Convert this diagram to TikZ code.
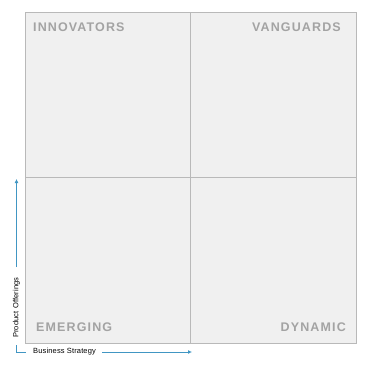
\documentclass[tikz,border=0pt]{standalone}
\usepackage{fontspec}
\setmainfont{Liberation Sans}
\newfontfamily\quadfont[LetterSpace=9]{Liberation Sans}
\newfontfamily\axisfont[LetterSpace=2]{Liberation Sans}
\usetikzlibrary{positioning,arrows.meta}
\definecolor{quadfill}{RGB}{240,240,240}
\definecolor{quadline}{RGB}{185,185,185}
\definecolor{quadtext}{RGB}{163,163,163}
\definecolor{axisblue}{RGB}{65,150,195}
\begin{document}
\begin{tikzpicture}[
			x=1pt,y=-1pt,
			quadrant/.style={draw=quadline,fill=quadfill,line width=0.8pt,minimum size=165.5pt,inner sep=0pt,outer sep=0pt},
			quadlabel/.style={text=quadtext,font=\quadfont\bfseries\fontsize{12.5}{14}\selectfont,inner sep=0pt},
			axislabel/.style={font=\axisfont\fontsize{7.5}{9}\selectfont,inner sep=0pt},
			axisarrow/.style={draw=axisblue,line width=1pt,-{Latex[length=4pt,width=4pt]}}
		]
		\useasboundingbox (0,0) rectangle (370,367);
		% quadrants
		\node[quadrant] (innov) at (107.75,94.75) {};
		\node[quadrant] (vang) at (273.25,94.75) {};
		\node[quadrant] (emerg) at (107.75,260.25) {};
		\node[quadrant] (dyn) at (273.25,260.25) {};
		\node[quadlabel,anchor=north west] at ([xshift=8pt,yshift=-10.5pt]innov.north west) {INNOVATORS};
		\node[quadlabel,anchor=north east] at ([xshift=-15pt,yshift=-10.5pt]vang.north east) {VANGUARDS};
		\node[quadlabel,anchor=south west] at ([xshift=11pt,yshift=11pt]emerg.south west) {EMERGING};
		\node[quadlabel,anchor=south east] at ([xshift=-10pt,yshift=11pt]dyn.south east) {DYNAMIC};
		% axes
		\coordinate (corner) at (16,352);
		\node[axislabel,anchor=west] (xlab) at (33,352) {Business Strategy};
		\node[axislabel,rotate=90,anchor=west] (ylab) at (16.5,338) {Product Offerings};
		\coordinate (xend) at (192,352);
		\coordinate (yend) at (16.5,179);
		\draw[draw=axisblue,line width=1pt] (16,345) -- (corner) -- (26,352);
		\draw[axisarrow] ([xshift=6pt]xlab.east) -- (xend);
		\draw[axisarrow] ([yshift=10pt]ylab.east) -- (yend);
	\end{tikzpicture}
\end{document}
